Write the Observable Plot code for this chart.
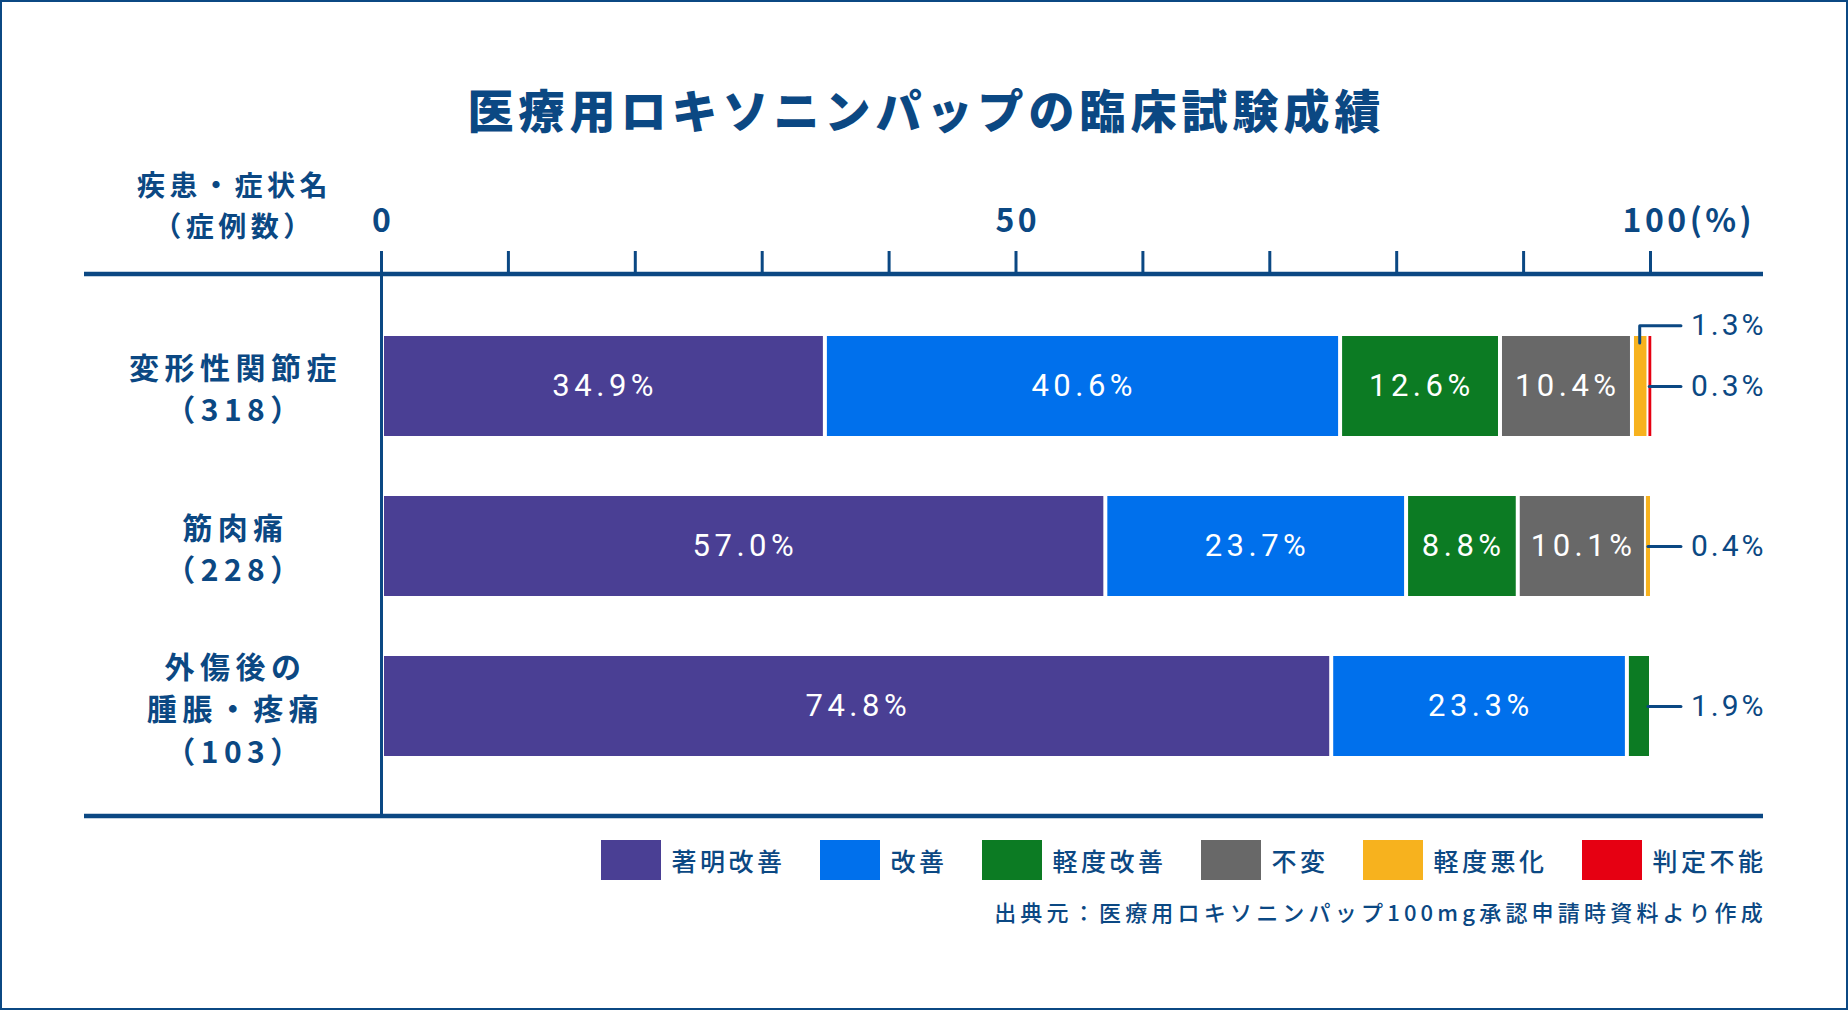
<!DOCTYPE html>
<html lang="ja">
<head>
<meta charset="utf-8">
<script src="https://cdn.jsdelivr.net/npm/d3@7"></script>
<script src="https://cdn.jsdelivr.net/npm/@observablehq/plot@0.6"></script>
<style>
  html, body { margin: 0; padding: 0; background: #fff; }
  #page { position: relative; width: 1848px; height: 1010px; background: #fff; overflow: hidden;
          font-family: "Noto Sans CJK JP", "Noto Sans", sans-serif; color: #0b4883; }
  #chart { position: absolute; left: 0; top: 0; }
  #title { position: absolute; left: 0; top: 85px; width: 100%; text-align: center;
           font-size: 46px; line-height: 46px; font-weight: 900; letter-spacing: 5px; padding-left: 5px; box-sizing: border-box; }
  #legend { position: absolute; right: 85px; top: 840px; height: 40px; display: flex; align-items: center; gap: 35px; }
  .item { display: flex; align-items: center; }
  .sw { width: 60px; height: 40px; margin-right: 10px; }
  .lt { font-size: 25px; line-height: 40px; letter-spacing: 3.5px; font-weight: 500; }
  .item:last-child .lt { margin-right: -3.5px; }
  #caption { position: absolute; right: 81px; top: 900px; font-size: 22px; line-height: 22px; letter-spacing: 4.2px; font-weight: 500; }
  #border { position: absolute; inset: 0; border: 2px solid #0b4883; pointer-events: none; }
  #chart g[aria-description="tick-labels"] text { letter-spacing: 3.5px; }
  #chart g[aria-description="row-labels"] text { letter-spacing: 5.5px; }
  #chart g[aria-description="header"] text { letter-spacing: 4.5px; }
  #chart g[aria-description="bar-labels"] text { letter-spacing: 4.5px; }
  #chart g[aria-description="outside-labels"] text { letter-spacing: 3px; }
</style>
</head>
<body>
<div id="page">
  <div id="chart"></div>
  <div id="title"></div>
  <div id="legend"></div>
  <div id="caption"></div>
  <div id="border"></div>
</div>
<script>
// ---------- data ----------
const titleText = "医療用ロキソニンパップの臨床試験成績";
const captionText = "出典元：医療用ロキソニンパップ100mg承認申請時資料より作成";
const headerText = "疾患・症状名\n（症例数）";
const rowLabels = ["変形性関節症\n（318）", "筋肉痛\n（228）", "外傷後の\n腫脹・疼痛\n（103）"];
const categories = ["著明改善", "改善", "軽度改善", "不変", "軽度悪化", "判定不能"];
const colors = ["#4a3f94", "#0070ec", "#0c7b23", "#686868", "#f7b21e", "#e60012"];
const oaValues = [34.9, 40.6, 12.6, 10.4, 1.3, 0.3];      // 変形性関節症
const myalgiaValues = [57.0, 23.7, 8.8, 10.1, 0.4, 0];    // 筋肉痛
const traumaValues = [74.8, 23.3, 1.9, 0, 0, 0];          // 外傷後の腫脹・疼痛
const xTicks = [0, 10, 20, 30, 40, 50, 60, 70, 80, 90, 100];
const xTickLabels = [0, 50];
const xEndLabel = "100(%)";

// ---------- layout constants ----------
const navy = "#0b4883";
const BAR_HALF = 0.3125;   // half bar thickness, in row units
const RAISE = 0.38;        // raised leader label offset, in row units
const LEADER_END = 102.4;  // leader line end, in % units
const FRAME_LEFT = 84, FRAME_RIGHT = 1763;

// ---------- derived table ----------
const allValues = [oaValues, myalgiaValues, traumaValues];
const rows = allValues.map((_, i) => i);
const segs = [];
allValues.forEach((vals, r) => {
  let acc = 0;
  vals.forEach((v, i) => {
    if (v > 0) segs.push({row: r, cat: categories[i], value: v, x1: acc, x2: acc + v});
    acc += v;
  });
});
const bigSegs = segs.filter(s => s.value >= 1);
const tinySegs = segs.filter(s => s.value < 1);
const innerSegs = segs.filter(s => s.value >= 5);
const outside = [];
const leaderPts = [];
rows.forEach(r => {
  const small = segs.filter(s => s.row === r && s.value < 5);
  small.forEach((s, k) => {
    const raised = k < small.length - 1;
    const id = r + "-" + k;
    if (raised) {
      const mid = (s.x1 + s.x2) / 2;
      leaderPts.push({id, x: mid, y: r - BAR_HALF + 0.04});
      leaderPts.push({id, x: mid, y: r - RAISE});
      leaderPts.push({id, x: LEADER_END, y: r - RAISE});
      outside.push({...s, ly: r - RAISE});
    } else {
      leaderPts.push({id, x: s.x2 - 0.2, y: r});
      leaderPts.push({id, x: LEADER_END, y: r});
      outside.push({...s, ly: r});
    }
  });
});

// frame lines (top & bottom rules spanning the label column)
function frameLines(index, scales, values, dimensions) {
  const g = d3.create("svg:g");
  const yt = dimensions.marginTop;
  const yb = dimensions.height - dimensions.marginBottom;
  for (const y of [yt, yb]) {
    g.append("line").attr("x1", FRAME_LEFT).attr("x2", FRAME_RIGHT)
      .attr("y1", y).attr("y2", y).attr("stroke", navy).attr("stroke-width", 4.5);
  }
  return g.node();
}

const cjk = "'Noto Sans CJK JP', 'Noto Sans', sans-serif";
const latin = "Roboto, 'Liberation Sans', sans-serif";

const chart = Plot.plot({
  width: 1848, height: 1010,
  marginLeft: 381, marginRight: 198, marginTop: 274, marginBottom: 194,
  x: {domain: [0, 100]},
  y: {domain: [-0.7, 2.6875], reverse: true, axis: null},
  color: {domain: categories, range: colors},
  style: {fontFamily: cjk, background: "transparent", overflow: "visible"},
  marks: [
    frameLines,
    Plot.rect(bigSegs, {x1: "x1", x2: "x2", y1: d => d.row - BAR_HALF, y2: d => d.row + BAR_HALF,
      fill: "cat", insetLeft: 3, insetRight: 1}),
    Plot.rect(tinySegs, {x1: "x1", x2: "x2", y1: d => d.row - BAR_HALF, y2: d => d.row + BAR_HALF,
      fill: "cat", insetLeft: 1}),
    Plot.ruleX([0], {stroke: navy, strokeWidth: 3}),
    Plot.axisX({anchor: "top", ticks: xTicks, tickSize: 24, tickFormat: () => "", color: navy,
      strokeWidth: 3, label: null}),
    Plot.text(xTickLabels, {x: d => d, text: d => String(d), frameAnchor: "top", lineAnchor: "middle",
      dy: -53, dx: 1.75, fill: navy, fontSize: 32, fontWeight: "bold", fontFamily: cjk,
      ariaDescription: "tick-labels"}),
    Plot.text([100], {x: d => d, text: () => xEndLabel, frameAnchor: "top", lineAnchor: "middle",
      dy: -53, dx: -28, textAnchor: "start", fill: navy, fontSize: 32, fontWeight: "bold", fontFamily: cjk,
      ariaDescription: "tick-labels"}),
    Plot.text([headerText], {text: d => d, frameAnchor: "top-left", dx: -147, dy: -71,
      lineAnchor: "middle", textAnchor: "middle", lineHeight: 1.45, fill: navy, fontSize: 28,
      fontWeight: "bold", fontFamily: cjk, ariaDescription: "header"}),
    Plot.text(rows, {y: d => d, text: d => rowLabels[d], frameAnchor: "left", dx: -146,
      textAnchor: "middle", lineAnchor: "middle", lineHeight: 1.42, fill: navy, fontSize: 30,
      fontWeight: "bold", fontFamily: cjk, ariaDescription: "row-labels"}),
    Plot.text(innerSegs, {x: d => (d.x1 + d.x2) / 2, y: "row", text: d => d.value.toFixed(1) + "%",
      dx: 2.25, fill: "white", fontSize: 31, fontFamily: latin, ariaDescription: "bar-labels"}),
    Plot.line(leaderPts, {x: "x", y: "y", z: "id", stroke: navy, strokeWidth: 3, curve: "linear"}),
    Plot.text(outside, {x: () => LEADER_END, y: "ly", dx: 10, text: d => d.value.toFixed(1) + "%",
      textAnchor: "start", fill: navy, fontSize: 30, fontFamily: latin, ariaDescription: "outside-labels"})
  ]
});
document.getElementById("chart").appendChild(chart);

document.getElementById("title").textContent = titleText;
document.getElementById("caption").textContent = captionText;
const legend = document.getElementById("legend");
categories.forEach((c, i) => {
  const item = document.createElement("div");
  item.className = "item";
  const sw = document.createElement("div");
  sw.className = "sw";
  sw.style.background = colors[i];
  const lt = document.createElement("span");
  lt.className = "lt";
  lt.textContent = c;
  item.appendChild(sw);
  item.appendChild(lt);
  legend.appendChild(item);
});
</script>
</body>
</html>
